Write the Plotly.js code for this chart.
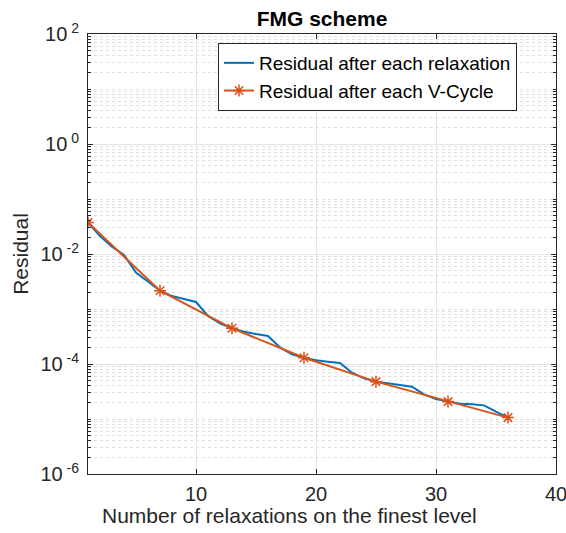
<!DOCTYPE html>
<html>
<head>
<meta charset="utf-8">
<script src="https://cdn.plot.ly/plotly-3.0.1.min.js"></script>
<style>html,body{margin:0;padding:0;background:#fff;}#chart{width:566px;height:533px;}</style>
</head>
<body>
<div id="chart"></div>
<script>
// Residual after each relaxation (x = 1..36)
const relaxX = [1,2,3,4,5,6,7,8,9,10,11,12,13,14,15,16,17,18,19,20,21,22,23,24,25,26,27,28,29,30,31,32,33,34,35,36];
const relaxY = [0.0374,0.0212,0.0136,0.0096,0.00458,0.00314,0.00215,0.00172,0.0015,0.00134,
  7.46e-4,5.5e-4,4.46e-4,3.87e-4,3.51e-4,3.23e-4,2.0e-4,1.5e-4,1.30e-4,1.17e-4,
  1.10e-4,1.04e-4,6.95e-5,5.48e-5,4.78e-5,4.39e-5,4.15e-5,3.87e-5,2.81e-5,2.31e-5,
  2.07e-5,1.90e-5,1.85e-5,1.77e-5,1.36e-5,1.06e-5];
// Residual after each V-Cycle
const vcycX = [1,7,13,19,25,31,36];
const vcycY = [0.0374,0.00215,4.46e-4,1.30e-4,4.78e-5,2.07e-5,1.06e-5];
// Tick labels
const xTicks = [10,20,30,40];
const yTickVals = [1e-6,1e-4,1e-2,1e0,1e2];
const yTickText = ['10<sup> -6</sup>','10<sup> -4</sup>','10<sup> -2</sup>','10<sup> 0</sup>','10<sup> 2</sup>'];

const minorY = [];
for (let e = -6; e < 2; e++) {
  for (let m = 1; m <= 9; m++) {
    if (m === 1 && (e % 2 === 0)) continue;
    minorY.push(m * Math.pow(10, e));
  }
}

const FONT = 'Liberation Sans, Arial, Helvetica, sans-serif';
const axisColor = '#262626';

const traces = [
  {x: relaxX, y: relaxY, type: 'scatter', mode: 'lines', name: 'Residual after each relaxation',
   line: {color: '#0072BD', width: 2}},
  {x: vcycX, y: vcycY, type: 'scatter', mode: 'lines+markers', name: 'Residual after each V-Cycle',
   line: {color: '#D95319', width: 2},
   marker: {symbol: 'asterisk-open', size: 10, line: {color: '#D95319', width: 1.5}}}
];

const layout = {
  width: 566, height: 533,
  margin: {l: 88, r: 10, t: 34, b: 59},
  paper_bgcolor: '#fff', plot_bgcolor: '#fff',
  font: {family: FONT, size: 19, color: axisColor},
  showlegend: true,
  title: {text: '<b>FMG scheme</b>', font: {family: FONT, size: 21, color: '#000'},
          x: 0.5, xref: 'paper', xanchor: 'center', y: 1 - 19/533, yref: 'container', yanchor: 'middle'},
  xaxis: {
    range: [1, 40], tickvals: xTicks, ticks: 'inside', ticklen: 5, tickcolor: axisColor,
    showline: true, linecolor: axisColor, linewidth: 1, mirror: 'ticks',
    showgrid: true, gridcolor: '#e6e6e6', gridwidth: 1, zeroline: false,
    tickfont: {family: FONT, size: 20, color: axisColor}, ticklabelstandoff: 2,
    ticklabeloverflow: 'allow'
  },
  yaxis: {
    type: 'log', range: [-6, 2], tickmode: 'array', tickvals: yTickVals, ticktext: yTickText,
    ticks: 'inside', ticklen: 5, tickcolor: axisColor,
    showline: true, linecolor: axisColor, linewidth: 1, mirror: 'ticks',
    showgrid: true, gridcolor: '#e6e6e6', gridwidth: 1, zeroline: false,
    tickfont: {family: FONT, size: 20, color: axisColor}, ticklabelstandoff: 4,
    ticklabeloverflow: 'allow',
    title: {text: 'Residual', font: {family: FONT, size: 21, color: axisColor}, standoff: 6},
    minor: {tickmode: 'array', tickvals: minorY, ticks: 'inside', ticklen: 3, tickcolor: axisColor,
            showgrid: true, gridcolor: '#e0e0e0', griddash: 'dot', gridwidth: 1}
  },
  legend: {
    x: (218 - 88) / 468, xanchor: 'left', y: 1 - (43 - 34) / 440, yanchor: 'top',
    bgcolor: '#fff', bordercolor: axisColor, borderwidth: 1,
    font: {family: FONT, size: 19, color: '#000'}, itemwidth: 30, tracegroupgap: 0,
    entrywidth: 320, entrywidthmode: 'pixels'
  },
  annotations: [
    {text: 'Number of relaxations on the finest level', xref: 'paper', yref: 'paper',
     x: (289 - 88) / 468, y: -(515 - 474) / 440, xanchor: 'center', yanchor: 'middle',
     showarrow: false, font: {family: FONT, size: 21, color: axisColor}}
  ]
};

Plotly.newPlot('chart', traces, layout, {displayModeBar: false, staticPlot: true});
</script>
</body>
</html>
